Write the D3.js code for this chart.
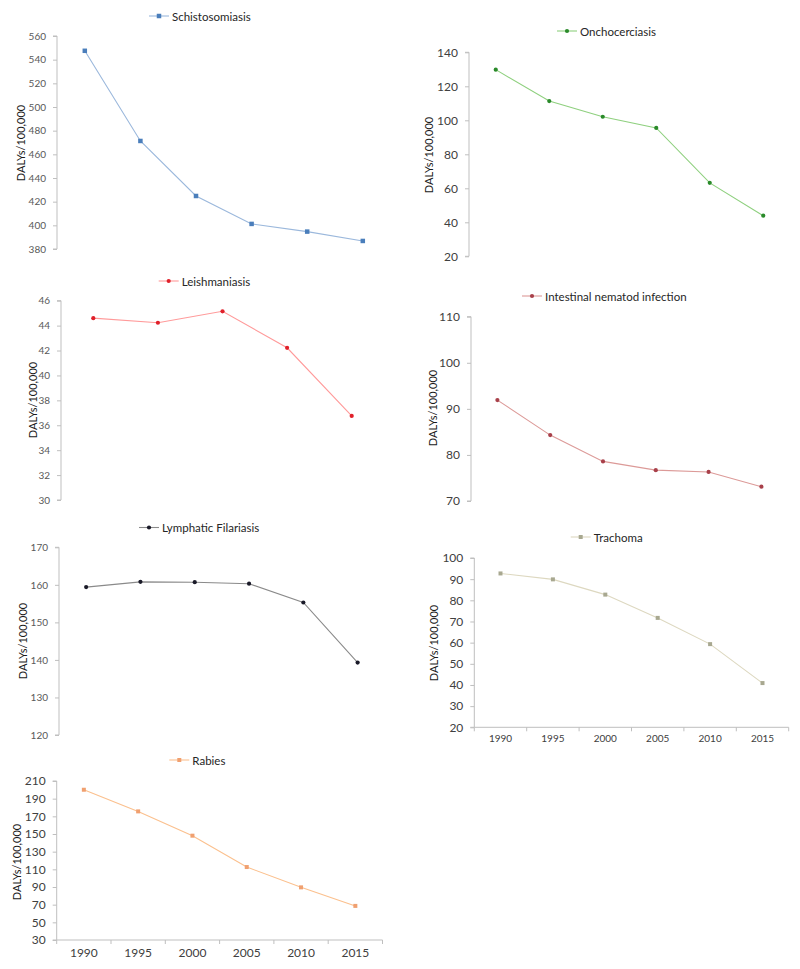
<!DOCTYPE html>
<html>
<head>
<meta charset="utf-8">
<script src="https://cdn.jsdelivr.net/npm/d3@7"></script>
<style>
  body { margin: 0; background: #fff; }
  svg { display: block; }
</style>
</head>
<body>
<svg id="chart" width="800" height="969"></svg>
<script>
// ---------- DATA ----------
const years = ["1990", "1995", "2000", "2005", "2010", "2015"];
const leishYears = ["1990", "1995", "2000", "2005", "2010"];

const schistosomiasis = [547.5, 471.3, 424.8, 401.2, 394.7, 386.8];
const onchocerciasis = [129.8, 111.3, 102.1, 95.5, 63.2, 43.9];
const leishmaniasis = [44.6, 44.23, 45.15, 42.22, 36.75];
const intestinal = [91.9, 84.3, 78.6, 76.7, 76.3, 73.1];
const lymphatic = [159.4, 160.8, 160.7, 160.3, 155.3, 139.3];
const trachoma = [92.7, 89.9, 82.7, 71.7, 59.3, 40.9];
const rabies = [200.1, 175.6, 148.1, 112.6, 89.6, 68.6];

const schistoTicks = [380, 400, 420, 440, 460, 480, 500, 520, 540, 560];
const onchoTicks = [20, 40, 60, 80, 100, 120, 140];
const leishTicks = [30, 32, 34, 36, 38, 40, 42, 44, 46];
const intestinalTicks = [70, 80, 90, 100, 110];
const lymphTicks = [120, 130, 140, 150, 160, 170];
const trachomaTicks = [20, 30, 40, 50, 60, 70, 80, 90, 100];
const rabiesTicks = [30, 50, 70, 90, 110, 130, 150, 170, 190, 210];

const yLabel = "DALYs/100,000";

// ---------- PANELS (data + layout) ----------
const panels = [
  { name: "Schistosomiasis", cats: years, vals: schistosomiasis, ticks: schistoTicks,
    ax: 57, x1: 390.6, yTop: 36, yBot: 249, fs: 10, tcol: "#595959",
    line: "#9bb8dc", mk: "#4a7ebb", shape: "square", msize: 4.5,
    lx: 149, ly: 16, ylx: 20, yly: 143, xaxis: false },
  { name: "Onchocerciasis", cats: years, vals: onchocerciasis, ticks: onchoTicks,
    ax: 469, x1: 790, yTop: 52.3, yBot: 256.3, fs: 12, tcol: "#404040",
    line: "#8fd07f", mk: "#2a8a2a", shape: "circle", msize: 4.2,
    lx: 557, ly: 31, ylx: 428, yly: 155, xaxis: false },
  { name: "Leishmaniasis", cats: leishYears, vals: leishmaniasis, ticks: leishTicks,
    ax: 61, x1: 384, yTop: 300.7, yBot: 500, fs: 10, tcol: "#595959",
    line: "#ff9a9a", mk: "#e0202a", shape: "circle", msize: 4.2,
    lx: 158.7, ly: 281, ylx: 32, yly: 400, xaxis: false },
  { name: "Intestinal nematod infection", cats: years, vals: intestinal, ticks: intestinalTicks,
    ax: 471, x1: 787.8, yTop: 316.7, yBot: 501, fs: 12, tcol: "#404040",
    line: "#dc9a98", mk: "#a8404a", shape: "circle", msize: 4.2,
    lx: 522, ly: 296, ylx: 432, yly: 408, xaxis: false },
  { name: "Lymphatic Filariasis", cats: years, vals: lymphatic, ticks: lymphTicks,
    ax: 59, x1: 384.8, yTop: 547.3, yBot: 735, fs: 10, tcol: "#595959",
    line: "#8a8a8a", mk: "#1a1a28", shape: "circle", msize: 4.2,
    lx: 139, ly: 527.5, ylx: 22, yly: 641, xaxis: false },
  { name: "Trachoma", cats: years, vals: trachoma, ticks: trachomaTicks,
    ax: 474.3, x1: 788.7, yTop: 558, yBot: 727.3, fs: 12, tcol: "#404040",
    line: "#ddd8c0", mk: "#a8a890", shape: "square", msize: 4,
    lx: 570.7, ly: 537, ylx: 433, yly: 643, xaxis: true, xfs: 10 },
  { name: "Rabies", cats: years, vals: rabies, ticks: rabiesTicks,
    ax: 56.7, x1: 382.5, yTop: 781, yBot: 940, fs: 12, tcol: "#404040",
    line: "#fbc08e", mk: "#f0a070", shape: "square", msize: 4,
    lx: 169.3, ly: 760, ylx: 16, yly: 862, xaxis: true, xfs: 12 }
];

const svg = d3.select("#chart");
const font = "Lato, 'Open Sans', sans-serif";
const axisCol = "#bfbfbf";

panels.forEach(p => {
  const g = svg.append("g");
  const x = d3.scaleBand().domain(p.cats).range([p.ax, p.x1]);
  const y = d3.scaleLinear()
    .domain([p.ticks[0], p.ticks[p.ticks.length - 1]])
    .range([p.yBot, p.yTop]);

  // y axis
  const yAxis = d3.axisLeft(y).tickValues(p.ticks).tickSize(4).tickPadding(7);
  const ya = g.append("g").attr("transform", `translate(${p.ax},0)`).call(yAxis);
  ya.select(".domain").attr("stroke", axisCol).attr("d", `M-4,${p.yTop}H0V${p.yBot}H-4`);
  ya.selectAll(".tick line").attr("stroke", axisCol);
  ya.selectAll(".tick text").attr("fill", p.tcol).style("font-family", font)
    .style("font-size", p.fs + "px");

  // x axis (bottom panels only)
  if (p.xaxis) {
    const xa = g.append("g").attr("transform", `translate(0,${p.yBot})`)
      .call(d3.axisBottom(x).tickSize(0).tickPadding(8));
    xa.select(".domain").attr("stroke", axisCol).attr("d", `M${p.ax},0H${p.x1}`);
    xa.selectAll(".tick text").attr("fill", p.tcol).style("font-family", font)
      .style("font-size", p.xfs + "px");
    const bounds = p.cats.map(c => x(c)).concat([x(p.cats[p.cats.length - 1]) + x.bandwidth()]);
    xa.selectAll(".bt").data(bounds).enter().append("line")
      .attr("x1", d => d).attr("x2", d => d).attr("y1", 0).attr("y2", 4)
      .attr("stroke", axisCol);
  }

  // y label
  g.append("text")
    .attr("transform", `translate(${p.ylx},${p.yly}) rotate(-90)`)
    .attr("text-anchor", "middle").attr("dominant-baseline", "central")
    .style("font-family", font).style("font-size", "11px").attr("fill", "#1a1a1a")
    .text(yLabel);

  // line
  const cx = (c) => x(c) + x.bandwidth() / 2;
  const pts = p.cats.map((c, i) => [cx(c), y(p.vals[i])]);
  g.append("path").datum(pts)
    .attr("d", d3.line())
    .attr("fill", "none").attr("stroke", p.line).attr("stroke-width", 1.1);

  // markers
  const sym = p.shape === "square" ? d3.symbolSquare : d3.symbolCircle;
  const area = p.shape === "square" ? p.msize * p.msize : Math.PI * (p.msize / 2) * (p.msize / 2);
  g.selectAll(".mk").data(pts).enter().append("path")
    .attr("transform", d => `translate(${d[0]},${d[1]})`)
    .attr("d", d3.symbol().type(sym).size(area))
    .attr("fill", p.mk);

  // legend
  const lg = g.append("g").attr("transform", `translate(${p.lx},${p.ly})`);
  lg.append("line").attr("x1", 0).attr("x2", 20).attr("y1", 0).attr("y2", 0)
    .attr("stroke", p.line).attr("stroke-width", 1.1);
  lg.append("path").attr("transform", "translate(10,0)")
    .attr("d", d3.symbol().type(sym).size(area)).attr("fill", p.mk);
  lg.append("text").attr("x", 23).attr("y", 0).attr("dominant-baseline", "central")
    .style("font-family", font).style("font-size", "11.5px").attr("fill", "#262626")
    .text(p.name);
});
</script>
</body>
</html>
